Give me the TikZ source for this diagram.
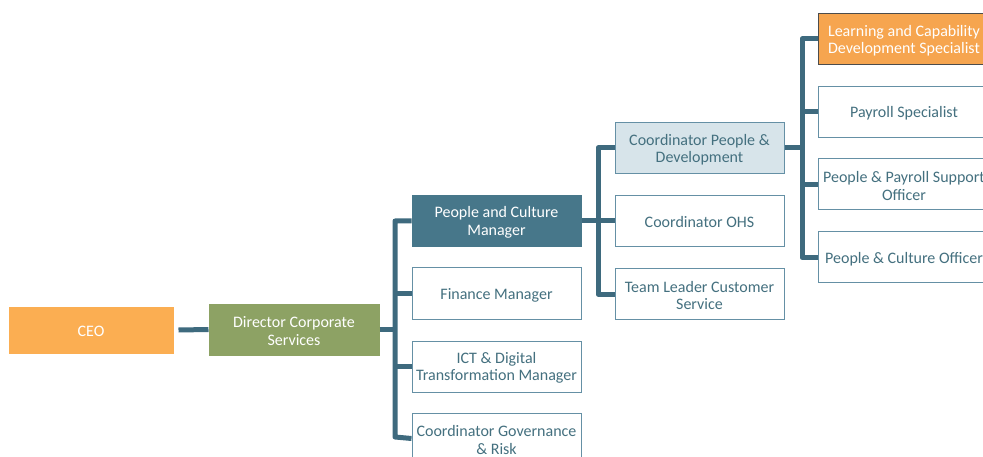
\documentclass[tikz,border=0pt]{standalone}
\usepackage{fontspec}
\setmainfont{Carlito}
\begin{document}
\definecolor{wire}{HTML}{3E6A7E}
\definecolor{edge}{HTML}{6590A5}
\definecolor{ink}{HTML}{44707F}
\definecolor{teal}{HTML}{47778A}
\definecolor{pale}{HTML}{D7E4EA}
\definecolor{ceoorange}{HTML}{FBAE52}
\definecolor{learnorange}{HTML}{F6A54F}
\definecolor{olive}{HTML}{8DA264}
\begin{tikzpicture}[x=1pt,y=-1pt,
  role/.style={draw=edge,line width=1pt,fill=white,
    minimum width=169pt,minimum height=51pt,inner sep=0pt},
  filled/.style={role,fill=#1,draw=#1},
  txt/.style={text=ink,inner sep=0pt,align=center,
    font=\fontsize{16}{17.5}\selectfont},
  light/.style={txt,text=white},
  link/.style={draw=wire,line width=5pt,line join=round}]
\useasboundingbox (0,0) rectangle (983,457);

% boxes: top of the chart
\node[filled=ceoorange,minimum width=164pt,minimum height=46pt] (ceo) at (91,330) {};
\node[filled=olive,minimum width=170pt] (dir) at (294,329.5) {};

% boxes: managers reporting to the director
\node[filled=teal] (pcm) at (496.5,221) {};
\node[role] (fin) at (496.5,293.5) {};
\node[role] (ict) at (496.5,366.5) {};
\node[role] (gov) at (496.5,438.5) {};

% boxes: coordinators under people and culture
\node[role,fill=pale] (cpd) at (699.5,148) {};
\node[role] (ohs) at (699.5,221) {};
\node[role] (tlc) at (699.5,294) {};

% boxes: specialists under people and development
\node[role,fill=learnorange,draw=black!70,minimum width=172pt] (lcd) at (904,39) {};
\node[role,minimum width=172pt] (pay) at (904,112) {};
\node[role,minimum width=172pt] (pps) at (904,184.5) {};
\node[role,minimum width=172pt] (pco) at (904,257.5) {};

% titles, set a little below the box centres
\node[light] (ceo-t) at ([yshift=-1.5pt]ceo.center) {CEO};
\node[light] (dir-t) at ([yshift=-1.5pt]dir.center) {Director Corporate\\Services};
\node[light] (pcm-t) at ([yshift=-1.5pt]pcm.center) {People and Culture\\Manager};
\node[txt] (fin-t) at ([yshift=-1.5pt]fin.center) {Finance Manager};
\node[txt] (ict-t) at ([yshift=-1.5pt]ict.center) {ICT \& Digital\\Transformation Manager};
\node[txt] (gov-t) at ([yshift=-1.5pt]gov.center) {Coordinator Governance\\\& Risk};
\node[txt] (cpd-t) at ([yshift=-1.5pt]cpd.center) {Coordinator People \&\\Development};
\node[txt] (ohs-t) at ([yshift=-1.5pt]ohs.center) {Coordinator OHS};
\node[txt] (tlc-t) at ([yshift=-1.5pt]tlc.center) {Team Leader Customer\\Service};
\node[light] (lcd-t) at ([yshift=-1.5pt]lcd.center) {Learning and Capability\\Development Specialist};
\node[txt] (pay-t) at ([yshift=-1.5pt]pay.center) {Payroll Specialist};
\node[txt] (pps-t) at ([yshift=-1.5pt]pps.center) {People \& Payroll Support\\Officer};
\node[txt] (pco-t) at ([yshift=-1.5pt]pco.center) {People \& Culture Officer};

% connectors
\draw[link] (ceo.east) ++(5,0) -- (dir.west);
\draw[link] (dir.east) -- (395,329.5);
\draw[link] (pcm.west) -| (395,437) -- (gov.west);
\draw[link] (395,293.5) -- (fin.west);
\draw[link] (395,366.5) -- (ict.west);

\draw[link] (pcm.east) -- (598,221);
\draw[link] (cpd.west) -| (598,294) -- (tlc.west);
\draw[link] (598,221) -- (ohs.west);

\draw[link] (cpd.east) -- (802,148);
\draw[link] (lcd.west) -| (802,257.5) -- (pco.west);
\draw[link] (802,112) -- (pay.west);
\draw[link] (802,184.5) -- (pps.west);
\end{tikzpicture}
\end{document}
